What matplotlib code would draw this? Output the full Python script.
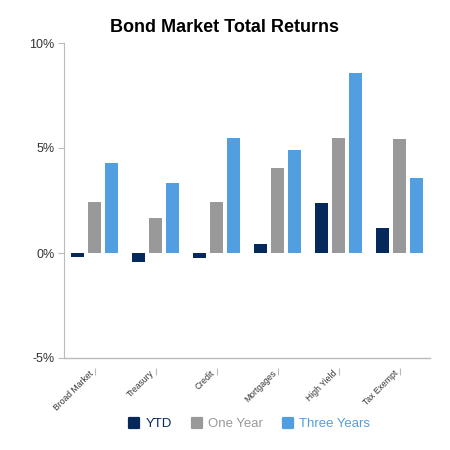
import matplotlib
matplotlib.use("Agg")
import matplotlib.pyplot as plt
import numpy as np
from matplotlib.lines import Line2D
from matplotlib.markers import MarkerStyle
from matplotlib.transforms import ScaledTranslation

categories = ["Broad Market", "Treasury", "Credit", "Mortgages", "High Yield", "Tax Exempt"]
ytd = [-0.17, -0.42, -0.24, 0.43, 2.37, 1.20]
one_year = [2.41, 1.65, 2.41, 4.03, 5.46, 5.41]
three_years = [4.29, 3.32, 5.48, 4.90, 8.56, 3.56]
series_names = ["YTD", "One Year", "Three Years"]
colors = ["#06295c", "#999999", "#519ee0"]
y_ticks = [-5, 0, 5, 10]
y_tick_labels = ["-5%", "0%", "5%", "10%"]

plt.rcParams['font.family'] = ['Liberation Sans', 'DejaVu Sans']

fig = plt.figure(figsize=(4.5, 4.5), dpi=100)
ax = fig.add_axes([64/450, 1-358/450, (430-64)/450, (358-43)/450])

for s in ['top', 'right']:
    ax.spines[s].set_visible(False)
ax.spines['left'].set_color("#bbbbbb")
ax.spines['bottom'].set_position(('outward', 7))
ax.spines['bottom'].set_visible(False)

x = np.arange(len(categories))
w = 0.2
off = 0.28
for i, (vals, c) in enumerate(zip([ytd, one_year, three_years], colors)):
    ax.bar(x + (i-1)*off, vals, width=w, color=c, edgecolor='none', zorder=3)

ax.set_xlim(-0.5, len(categories)-0.5)
ax.set_ylim(-5, 10)
ax.set_yticks(y_ticks)
ax.set_yticklabels(y_tick_labels, fontsize=9, color="#333333")
ax.set_xticks(x)
ax.set_xticklabels([])

shift = ScaledTranslation(-6/100, -11/100, fig.dpi_scale_trans)
for xi, name in zip(x, categories):
    ax.text(xi, 0, name, transform=ax.get_xaxis_transform() + shift, rotation=45,
            ha='right', va='top', rotation_mode='anchor', fontsize=6.2, color="#333333")

ax.axhline(-5, color="#bbbbbb", lw=1, zorder=2, clip_on=False)
ax.tick_params(axis='y', length=4, color="#bbbbbb", pad=3)
ax.tick_params(axis='x', length=5, color="#bbbbbb", pad=1)

fig.suptitle("Bond Market Total Returns", x=224.5/450, y=1-27/450, va='center',
             fontsize=13, fontweight='bold')

mk = MarkerStyle('s', joinstyle='round')
handles = [Line2D([], [], marker=mk, linestyle='none', markersize=7, markerfacecolor=c,
                  markeredgecolor=c, markeredgewidth=1.6) for c in colors]
leg = fig.legend(handles, series_names, loc='center', bbox_to_anchor=(249/450, 1-424/450),
                 ncol=3, frameon=False, fontsize=9.5, handletextpad=0.35, columnspacing=1.4,
                 handlelength=1.0)
for t, c in zip(leg.get_texts(), colors):
    t.set_color(c)

fig.savefig("out.png", dpi=100)
